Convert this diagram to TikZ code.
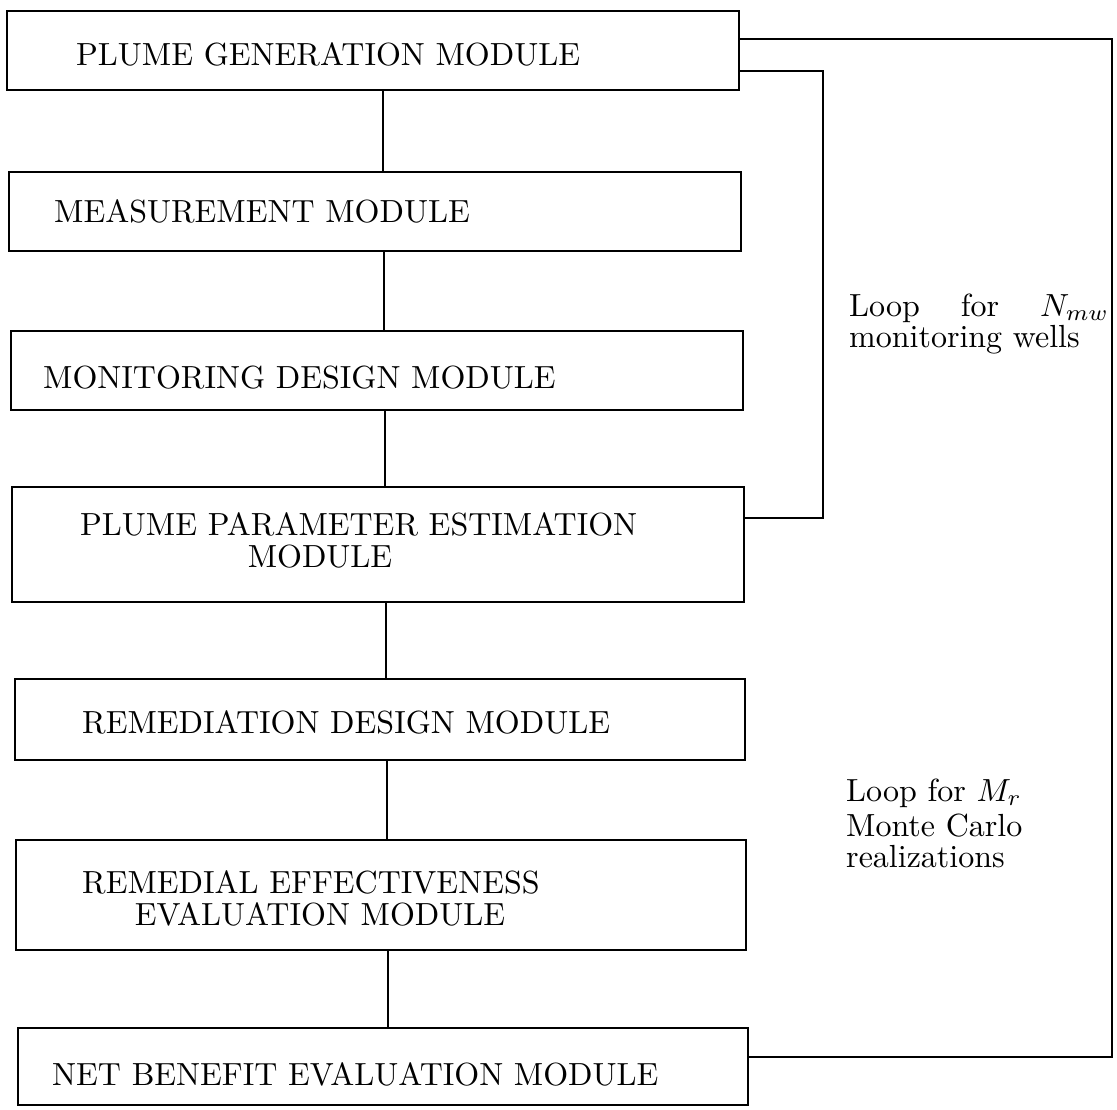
\documentclass[tikz,border=0pt]{standalone}
\usepackage{graphicx}
\newcommand{\Mtxt}[1]{\scalebox{1.6}{\fontsize{10}{12}\selectfont #1}}
\begin{document}
\begin{tikzpicture}[x=0.5pt,y=-0.5pt,line width=1.2pt,
  box/.style={draw,rectangle,inner sep=0pt,outer sep=0pt,anchor=north west},
  lbl/.style={inner sep=0pt}]
\useasboundingbox (0,0) rectangle (1117,1109);
% boxes
\node[box,minimum width=366pt,minimum height=39.5pt] (b1) at (7,11) {};
\node[box,minimum width=366pt,minimum height=39.5pt] (b2) at (9,172) {};
\node[box,minimum width=366pt,minimum height=39.5pt] (b3) at (11,331) {};
\node[box,minimum width=366pt,minimum height=57.5pt] (b4) at (12,487) {};
\node[box,minimum width=365pt,minimum height=40.5pt] (b5) at (15,679) {};
\node[box,minimum width=365pt,minimum height=55pt]   (b6) at (16,840) {};
\node[box,minimum width=365pt,minimum height=38.5pt] (b7) at (18,1028) {};
% labels
\node[lbl,anchor=base west] (t1) at (75,65) {\Mtxt{PLUME GENERATION MODULE}};
\node[lbl,anchor=base west] (t2) at (53,222) {\Mtxt{MEASUREMENT MODULE}};
\node[lbl,anchor=base west] (t3) at (42,388) {\Mtxt{MONITORING DESIGN MODULE}};
\node[lbl,anchor=base west] (t4a) at (79,535) {\Mtxt{PLUME PARAMETER ESTIMATION}};
\node[lbl,anchor=base] (t4b) at (320,567) {\Mtxt{MODULE}};
\node[lbl,anchor=base west] (t5) at (81,733) {\Mtxt{REMEDIATION DESIGN MODULE}};
\node[lbl,anchor=base west] (t6a) at (81,893) {\Mtxt{REMEDIAL EFFECTIVENESS}};
\node[lbl,anchor=base] (t6b) at (320,925) {\Mtxt{EVALUATION MODULE}};
\node[lbl,anchor=base west] (t7) at (51,1085) {\Mtxt{NET BENEFIT EVALUATION MODULE}};
% vertical connectors
\coordinate (c1) at (383,0);
\coordinate (c2) at (384,0);
\coordinate (c3) at (385,0);
\coordinate (c4) at (386,0);
\coordinate (c5) at (387,0);
\coordinate (c6) at (388,0);
\draw (c1 |- b1.south) -- (c1 |- b2.north);
\draw (c2 |- b2.south) -- (c2 |- b3.north);
\draw (c3 |- b3.south) -- (c3 |- b4.north);
\draw (c4 |- b4.south) -- (c4 |- b5.north);
\draw (c5 |- b5.south) -- (c5 |- b6.north);
\draw (c6 |- b6.south) -- (c6 |- b7.north);
% loops
\coordinate (oTop) at (1112,39);
\coordinate (oBot) at (1112,1057);
\coordinate (iTop) at (823,71);
\coordinate (iBot) at (823,518);
\draw (b1.east |- oTop) -- (oTop) -- (oBot) -- (b7.east |- oBot);
\draw (b1.east |- iTop) -- (iTop) -- (iBot) -- (b4.east |- iBot);
% loop notes
\node[lbl,anchor=base west] (n1a) at (848,316) {\Mtxt{\makebox[81.25pt][s]{Loop for $N_{mw}$}}};
\node[lbl,anchor=base west] (n1b) at (848,347) {\Mtxt{monitoring wells}};
\node[lbl,anchor=base west] (n2a) at (845,801) {\Mtxt{Loop for $M_r$}};
\node[lbl,anchor=base west] (n2b) at (845,836) {\Mtxt{Monte Carlo}};
\node[lbl,anchor=base west] (n2c) at (845,867) {\Mtxt{realizations}};
\end{tikzpicture}
\end{document}
